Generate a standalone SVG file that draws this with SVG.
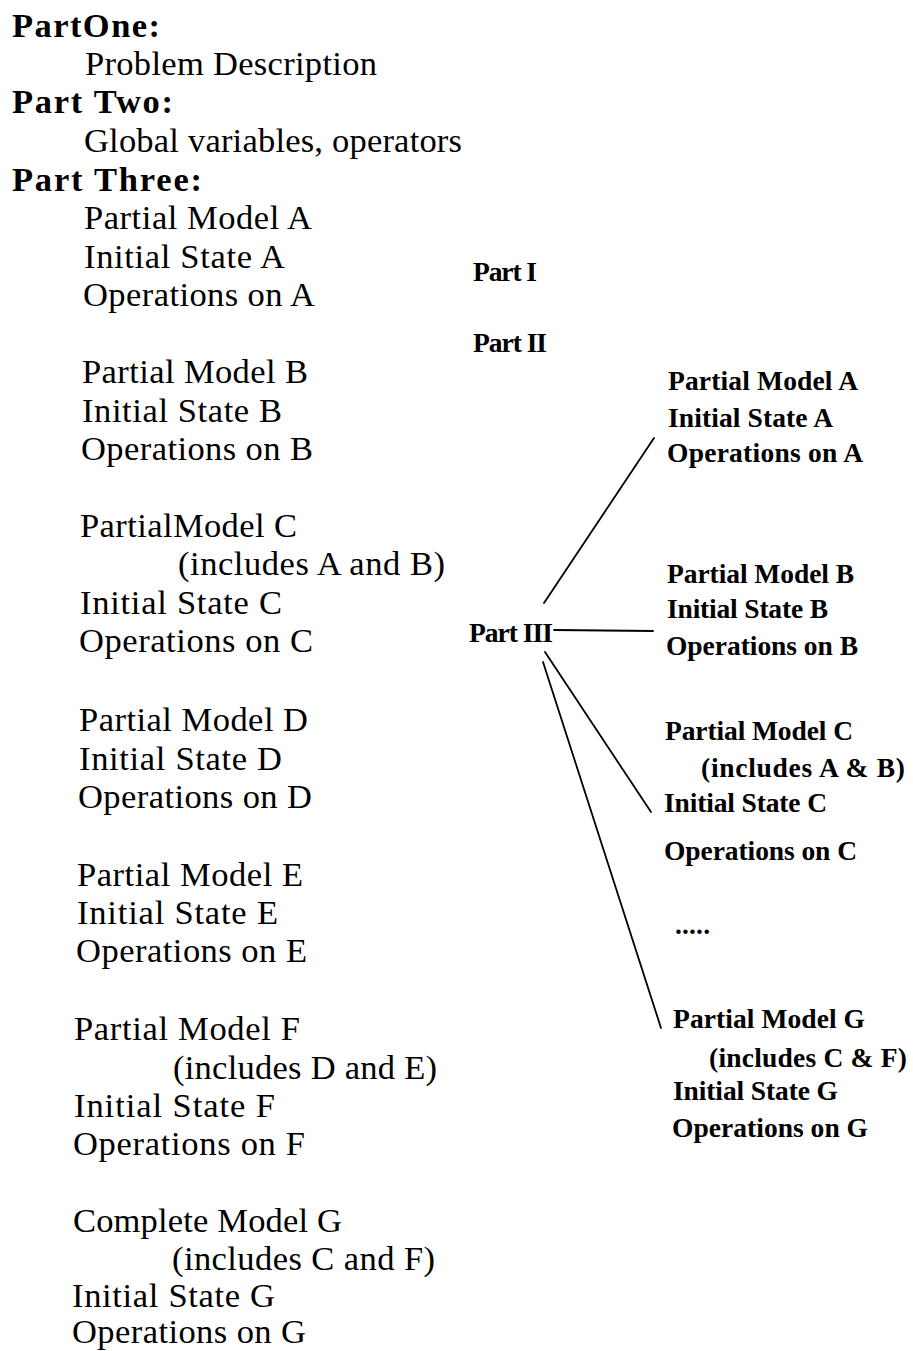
<svg xmlns="http://www.w3.org/2000/svg" width="913" height="1351" viewBox="0 0 913 1351">
  <style>
    .bg { fill: #ffffff; }
    .cm { font-family: "Liberation Serif", "Times New Roman", serif; font-size: 34.5px; fill: #000; }
    .cmb { font-family: "Liberation Serif", "Times New Roman", serif; font-size: 34.5px; font-weight: bold; fill: #000; }
    .tr { font-family: "Liberation Serif", "Times New Roman", serif; font-size: 27.5px; font-weight: bold; fill: #000; }
    .edge { stroke: #000; stroke-width: 1.8; fill: none; stroke-linecap: round; }
  </style>
  <rect class="bg" x="0" y="0" width="913" height="1351"/>

  <!-- Left column: document outline -->
  <g id="outline">
    <g id="part-one">
      <text class="cmb" x="12" y="37" textLength="148">PartOne:</text>
      <text class="cm" x="85" y="75" textLength="292">Problem Description</text>
    </g>
    <g id="part-two">
      <text class="cmb" x="12" y="113" textLength="161">Part Two:</text>
      <text class="cm" x="84" y="152" textLength="378">Global variables, operators</text>
    </g>
    <g id="part-three">
      <text class="cmb" x="12" y="191" textLength="190">Part Three:</text>
    </g>
    <g id="outline-a">
      <text class="cm" x="84" y="229" textLength="228">Partial Model A</text>
      <text class="cm" x="84" y="268" textLength="201">Initial State A</text>
      <text class="cm" x="83" y="306" textLength="232">Operations on A</text>
    </g>
    <g id="outline-b">
      <text class="cm" x="82" y="383" textLength="226">Partial Model B</text>
      <text class="cm" x="82" y="422" textLength="200">Initial State B</text>
      <text class="cm" x="81" y="460" textLength="232">Operations on B</text>
    </g>
    <g id="outline-c">
      <text class="cm" x="80" y="537" textLength="217">PartialModel C</text>
      <text class="cm" x="178" y="575" textLength="267">(includes A and B)</text>
      <text class="cm" x="80" y="614" textLength="202">Initial State C</text>
      <text class="cm" x="79" y="652" textLength="234">Operations on C</text>
    </g>
    <g id="outline-d">
      <text class="cm" x="79" y="731" textLength="229">Partial Model D</text>
      <text class="cm" x="79" y="770" textLength="203">Initial State D</text>
      <text class="cm" x="78" y="808" textLength="234">Operations on D</text>
    </g>
    <g id="outline-e">
      <text class="cm" x="77" y="886" textLength="226">Partial Model E</text>
      <text class="cm" x="77" y="924" textLength="201">Initial State E</text>
      <text class="cm" x="76" y="962" textLength="231">Operations on E</text>
    </g>
    <g id="outline-f">
      <text class="cm" x="74" y="1040" textLength="226">Partial Model F</text>
      <text class="cm" x="173" y="1079" textLength="264">(includes D and E)</text>
      <text class="cm" x="74" y="1117" textLength="201">Initial State F</text>
      <text class="cm" x="73" y="1155" textLength="232">Operations on F</text>
    </g>
    <g id="outline-g">
      <text class="cm" x="73" y="1232" textLength="269">Complete Model G</text>
      <text class="cm" x="172" y="1270" textLength="263">(includes C and F)</text>
      <text class="cm" x="72" y="1307" textLength="203">Initial State G</text>
      <text class="cm" x="72" y="1343" textLength="234">Operations on G</text>
    </g>
  </g>

  <!-- Right side: part tree -->
  <g id="connectors">
    <line class="edge" x1="544" y1="603" x2="654" y2="438"/>
    <line class="edge" x1="554" y1="630" x2="653" y2="631"/>
    <line class="edge" x1="545" y1="652" x2="651" y2="812"/>
    <line class="edge" x1="543" y1="662" x2="661" y2="1028"/>
  </g>

  <g id="node-part1">
    <text class="tr" x="473" y="281" textLength="64">Part I</text>
  </g>
  <g id="node-part2">
    <text class="tr" x="473" y="352" textLength="74">Part II</text>
  </g>
  <g id="node-part3">
    <text class="tr" x="469" y="642" textLength="84">Part III</text>
  </g>

  <g id="node-model-a">
    <text class="tr" x="668" y="390" textLength="190">Partial Model A</text>
    <text class="tr" x="668" y="427" textLength="165">Initial State A</text>
    <text class="tr" x="667" y="462" textLength="196">Operations on A</text>
  </g>
  <g id="node-model-b">
    <text class="tr" x="667" y="583" textLength="187">Partial Model B</text>
    <text class="tr" x="667" y="618" textLength="161">Initial State B</text>
    <text class="tr" x="666" y="655" textLength="192">Operations on B</text>
  </g>
  <g id="node-model-c">
    <text class="tr" x="665" y="740" textLength="188">Partial Model C</text>
    <text class="tr" x="701" y="777" textLength="204">(includes A &amp; B)</text>
    <text class="tr" x="664" y="812" textLength="163">Initial State C</text>
    <text class="tr" x="664" y="860" textLength="193">Operations on C</text>
  </g>
  <g id="node-ellipsis">
    <text class="tr" x="675" y="934" textLength="35">.....</text>
  </g>
  <g id="node-model-g">
    <text class="tr" x="673" y="1028" textLength="192">Partial Model G</text>
    <text class="tr" x="709" y="1067" textLength="198">(includes C &amp; F)</text>
    <text class="tr" x="673" y="1100" textLength="165">Initial State G</text>
    <text class="tr" x="672" y="1137" textLength="196">Operations on G</text>
  </g>
</svg>
